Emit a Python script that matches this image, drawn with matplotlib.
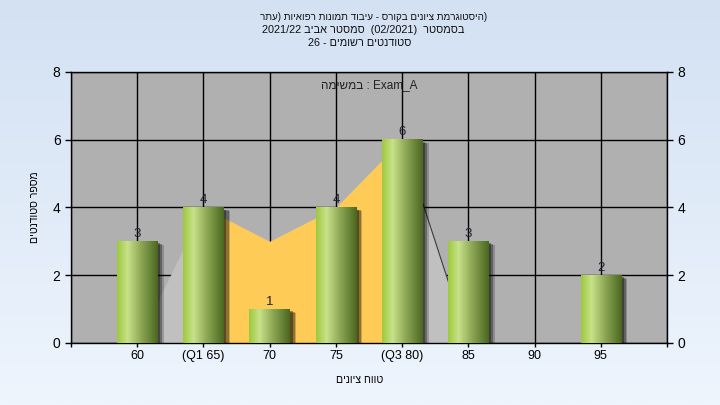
import re
import numpy as np
import matplotlib
matplotlib.use('Agg')
import matplotlib.pyplot as plt
from matplotlib.colors import LinearSegmentedColormap
import matplotlib.patheffects as pe

plt.rcParams['font.family'] = ['Liberation Sans', 'DejaVu Sans']

categories = ['60', '(Q1 65)', '70', '75', '(Q3 80)', '85', '90', '95']
counts = [3, 4, 1, 4, 6, 3, 0, 2]
curve = [0, 4, 3, 4, 6, 0, 0, 0]
q1_idx = 1
q3_idx = 4

title_lines = ['(היסטוגרמת ציונים בקורס - עיבוד תמונות רפואיות (עתר',
               'בסמסטר  (02/2021)  סמסטר אביב 2021/22',
               'סטודנטים רשומים - 26']
exam_label = 'Exam_A : במשימה'
x_title = 'טווח ציונים'
y_title = 'מספר סטודנטים'


def rtl(s, mirror=True):
    '''very small bidi: reverse hebrew runs, keep latin/digit runs as they are'''
    runs = re.findall(r'[A-Za-z0-9_/.]+|[^A-Za-z0-9_/.]+', s)
    out = []
    for r in reversed(runs):
        if re.match(r'[A-Za-z0-9_/.]', r):
            out.append(r)
        else:
            r = r[::-1]
            if mirror:
                r = r.translate(str.maketrans('()', ')('))
            out.append(r)
    return ''.join(out)


fig = plt.figure(figsize=(7.2, 4.05), dpi=100)

# background gradient
bg = fig.add_axes([0, 0, 1, 1], zorder=-10)
bg_cmap = LinearSegmentedColormap.from_list('bg', ['#d3e1f3', '#eef5fd'])
bg.imshow(np.linspace(0, 1, 256).reshape(-1, 1), cmap=bg_cmap, aspect='auto',
          extent=[0, 1, 0, 1])
bg.axis('off')

ax = fig.add_axes([71 / 720, 1 - 343 / 405, 596 / 720, 271 / 405], zorder=1)
ax.set_facecolor('#b0b0b0')

x = np.arange(len(categories))

# area behind the bars
ax.fill_between(x, curve, color='#c0c0c0', lw=0, zorder=1)
ax.fill_between(x[q1_idx:q3_idx + 1], curve[q1_idx:q3_idx + 1], color='#fecb57', lw=0, zorder=1.2)
ax.plot(x[q3_idx:q3_idx + 2], curve[q3_idx:q3_idx + 2], color='#3a3a3a', lw=0.8, zorder=1.3)

# bars with gradient + shadow
bar_cmap = LinearSegmentedColormap.from_list(
    'bar', [(0, '#9ec83e'), (0.26, '#c8e28a'), (0.55, '#93ad5a'), (1, '#4a671f')])
grad = np.linspace(0, 1, 256).reshape(1, -1)
width = 0.61
bars = ax.bar(x, counts, width=width, color='#8aa84a', zorder=2)
for rect, c in zip(bars, counts):
    if c == 0:
        rect.set_visible(False)
        continue
    rect.set_path_effects([pe.SimplePatchShadow(offset=(4.5, -2.5), shadow_rgbFace='black', alpha=0.2),
                           pe.SimplePatchShadow(offset=(3.5, -2), shadow_rgbFace='black', alpha=0.3),
                           pe.SimplePatchShadow(offset=(2, -1.5), shadow_rgbFace='black', alpha=0.35),
                           pe.Normal()])
    x0 = rect.get_x()
    ax.imshow(grad, cmap=bar_cmap, aspect='auto', interpolation='bilinear',
              extent=[x0, x0 + width, 0, c], zorder=3)
    ax.annotate(str(c), (rect.get_x() + width / 2, c), xytext=(0, 1), textcoords='offset points',
                ha='center', va='bottom', fontsize=9.5, color='#222236', zorder=4)

ax.set_xlim(-1, len(categories))
ax.set_ylim(0, 8)
ax.set_xticks(range(-1, len(categories) + 1))
ax.set_xticklabels([''] + categories + [''], fontsize=9)
ax.set_yticks(range(0, 9, 2))
ax.tick_params(axis='y', which='major', labelsize=10, length=4, width=1, right=True, labelright=True)
ax.tick_params(axis='x', which='major', length=3, width=1, pad=2)
ax.grid(True, color='black', lw=1)
ax.set_axisbelow(True)
for s in ax.spines.values():
    s.set_color('black')
    s.set_linewidth(1)

ax.text(0.5, 0.95, rtl(exam_label), transform=ax.transAxes, ha='center', va='center',
        fontsize=8.5, color='#222222', zorder=5)

# titles
title_x = [374 / 720, 363 / 720, 360 / 720]
title_y = [17, 30, 43]
title_size = [7.1, 7.8, 7.8]
for line, tx, ty, fs in zip(title_lines, title_x, title_y, title_size):
    fig.text(tx, 1 - ty / 405, rtl(line), ha='center', va='center',
             fontsize=fs, color='#111111')

fig.text(0.5, 1 - 380 / 405, rtl(x_title), ha='center', va='center', fontsize=7.6)
fig.text(35 / 720, 1 - 207 / 405, rtl(y_title), ha='center', va='center', rotation=90, fontsize=7.6)

fig.savefig('out.png', dpi=100)
